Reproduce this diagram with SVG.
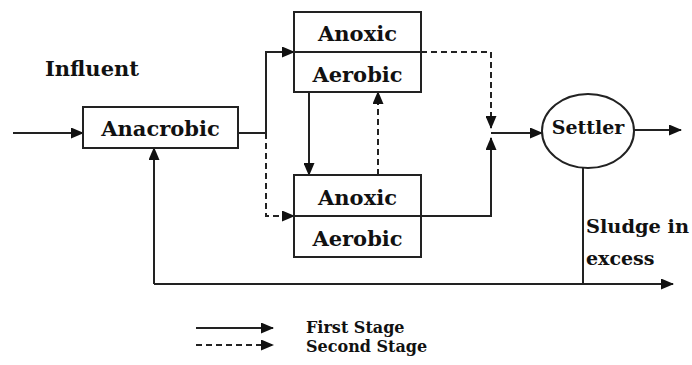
<svg xmlns="http://www.w3.org/2000/svg" width="692" height="365" viewBox="0 0 692 365">
<style>
.box{fill:#fff;stroke:#222;stroke-width:2}
.t{font-family:'DejaVu Serif','Liberation Serif',serif;font-weight:bold;font-size:21px;fill:#111}
.lg{font-size:16px}
.s{font-size:19px}
.c{fill:none;stroke:#222;stroke-width:2}
.d{stroke-dasharray:6 4}
.a{marker-end:url(#ah)}
</style>
<defs>
<marker id="ah" markerUnits="userSpaceOnUse" markerWidth="13" markerHeight="11" refX="12" refY="5.5" orient="auto">
<path d="M0,0 L13,5.5 L0,11 Z" fill="#111"/>
</marker>
</defs>
<text class="t" x="45" y="76">Influent</text>
<g id="connectors">
<path class="c a" d="M13,133 H83"/>
<path class="c" d="M238,133 H266"/>
<path class="c a" d="M266,133 V52 H294"/>
<path class="c d a" d="M266,133 V216 H294"/>
<path class="c a" d="M309,92 V175"/>
<path class="c d a" d="M378,175 V92"/>
<path class="c d a" d="M421,52 H491 V128"/>
<path class="c a" d="M421,216 H491 V138"/>
<path class="c a" d="M491,133 H542"/>
<path class="c a" d="M634,130 H681"/>
<path class="c" d="M583,168 V284"/>
<path class="c a" d="M154,284 H673"/>
<path class="c a" d="M154,284 V148"/>
</g>
<g id="anaerobic">
<rect class="box" x="83" y="107" width="155" height="41"/>
<text class="t" x="160.5" y="136" text-anchor="middle">Anacrobic</text>
</g>
<g id="stage1">
<rect class="box" x="294" y="12" width="127" height="80"/>
<line class="c" x1="294" y1="52" x2="421" y2="52"/>
<text class="t" x="357.5" y="41" text-anchor="middle">Anoxic</text>
<text class="t" x="357.5" y="82" text-anchor="middle">Aerobic</text>
</g>
<g id="stage2">
<rect class="box" x="294" y="175" width="127" height="82"/>
<line class="c" x1="294" y1="216" x2="421" y2="216"/>
<text class="t" x="357.5" y="205" text-anchor="middle">Anoxic</text>
<text class="t" x="357.5" y="246" text-anchor="middle">Aerobic</text>
</g>
<g id="settler">
<ellipse class="box" cx="588" cy="131" rx="46" ry="37"/>
<text class="t s" x="588" y="134" text-anchor="middle">Settler</text>
</g>
<g id="sludge">
<text class="t s" x="586" y="233" textLength="103" lengthAdjust="spacingAndGlyphs">Sludge in</text>
<text class="t s" x="586" y="265">excess</text>
</g>
<g id="legend">
<path class="c a" d="M196,328 H273"/>
<path class="c d a" d="M196,345 H273"/>
<text class="t lg" x="306" y="333">First Stage</text>
<text class="t lg" x="306" y="352">Second Stage</text>
</g>
</svg>
